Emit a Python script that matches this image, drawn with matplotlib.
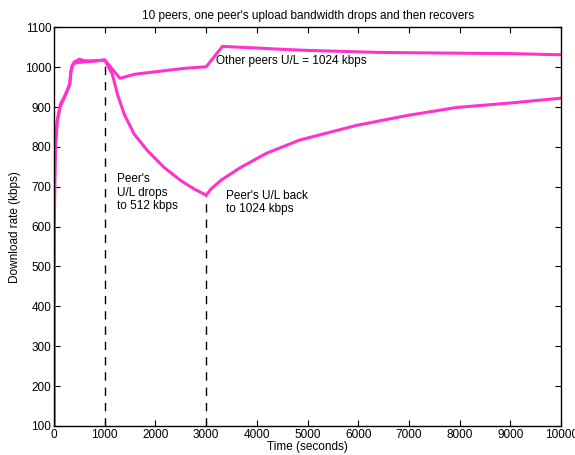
import matplotlib
matplotlib.use('Agg')
import matplotlib.pyplot as plt

# ── Data ─────────────────────────────────────────────────────
# other peers, upload fixed at 1024 kbps
t_other = [0, 5, 15, 30, 65, 120, 200, 260, 310, 330, 360, 400, 500,
           600, 800, 1000, 1150, 1300, 1580, 2100, 2570, 3000, 3320,
           4000, 4447, 5000, 6400, 8000, 9000, 10000]
r_other = [100, 600, 720, 800, 865, 900, 923, 940, 957, 990, 1005, 1013, 1020,
           1016, 1016, 1018, 995, 972, 982, 990, 997, 1001, 1052,
           1048, 1045, 1042, 1037, 1035, 1034, 1031]

# the peer whose upload drops at t=1000 and recovers at t=3000
t_peer = [0, 5, 15, 30, 65, 120, 200, 260, 310, 330, 360, 400, 500,
          700, 1000, 1150, 1250, 1383, 1580, 1845, 2174, 2504, 2767, 3000,
          3100, 3300, 3660, 4190, 4840, 5968, 6976, 7945, 8992, 9980]
r_peer = [100, 620, 740, 820, 868, 905, 925, 942, 958, 985, 1003, 1010, 1012,
          1014, 1018, 982, 932, 882, 832, 790, 748, 715, 694, 679,
          695, 717, 747, 784, 817, 854, 879, 899, 910, 922]

event_times = [1000, 3000]
event_tops = [1018, 678]

LINE_COL = '#ff33cc'

plt.rcParams['font.family'] = ['Liberation Sans', 'DejaVu Sans']

fig, ax = plt.subplots(figsize=(5.75, 4.55), dpi=100)
fig.subplots_adjust(left=0.094, right=0.976, top=0.94, bottom=0.064)

ax.plot(t_other, r_other, color=LINE_COL, lw=2.2)
ax.plot(t_peer, r_peer, color=LINE_COL, lw=2.2)

for t, top in zip(event_times, event_tops):
    ax.plot([t, t], [100, top], color='black', lw=1, ls=(0, (6, 5)))

ax.text(1250, 735, "Peer's\nU/L drops\nto 512 kbps", fontsize=8.5,
        va='top', ha='left', linespacing=1.2)
ax.text(3400, 693, "Peer's U/L back\nto 1024 kbps", fontsize=8.5,
        va='top', ha='left', linespacing=1.2)
ax.text(3200, 1016, "Other peers U/L = 1024 kbps", fontsize=8.5,
        va='center', ha='left')

ax.set_xlim(0, 10000)
ax.set_ylim(100, 1100)
ax.set_xticks(range(0, 10001, 1000))
ax.set_yticks(range(100, 1101, 100))
ax.tick_params(direction='in', top=True, right=True, labelsize=8.5, length=4, pad=2)
ax.set_xlabel('Time (seconds)', fontsize=8.5, labelpad=0)
ax.set_ylabel('Download rate (kbps)', fontsize=8.5, labelpad=3)
ax.set_title("10 peers, one peer's upload bandwidth drops and then recovers",
             fontsize=8.5, pad=6)
for s in ax.spines.values():
    s.set_linewidth(1)

plt.savefig('out.png', dpi=100)
